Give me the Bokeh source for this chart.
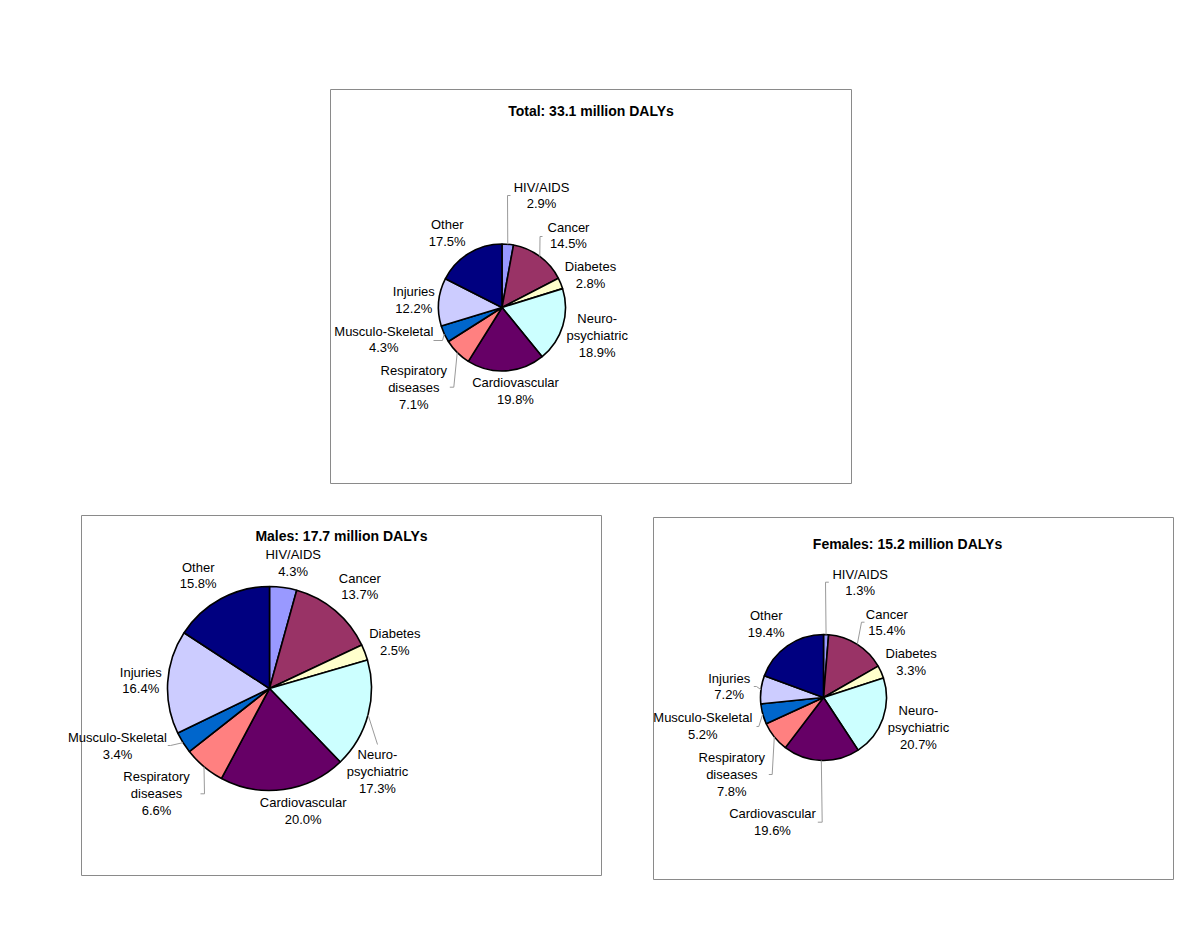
import math
from bokeh.plotting import figure
from bokeh.models import Range1d, ColumnDataSource
from bokeh.core.properties import value
from bokeh.embed import file_html
from bokeh.resources import INLINE

# ---------------- DATA ----------------
categories = ["HIV/AIDS", "Cancer", "Diabetes", "Neuro-\npsychiatric", "Cardiovascular",
              "Respiratory\ndiseases", "Musculo-Skeletal", "Injuries", "Other"]
colors = ["#9999FF", "#993366", "#FFFFCC", "#CCFFFF", "#660066",
          "#FF8080", "#0066CC", "#CCCCFF", "#000080"]
total_values = [2.9, 14.5, 2.8, 18.9, 19.8, 7.1, 4.3, 12.2, 17.5]
males_values = [4.3, 13.7, 2.5, 17.3, 20.0, 6.6, 3.4, 16.4, 15.8]
females_values = [1.3, 15.4, 3.3, 20.7, 19.6, 7.8, 5.2, 7.2, 19.4]
titles = ["Total: 33.1 million DALYs", "Males: 17.7 million DALYs", "Females: 15.2 million DALYs"]

# ---------------- LAYOUT (page pixel coordinates, y downward) ----------------
W, H = 1184, 911
FONT = "Liberation Sans"

panels = [
    dict(values=total_values, title=titles[0], box=(330, 851, 89, 483),
         center=(501.5, 307), r=63.5, title_xy=(590.5, 110),
         label_off=[(39.5, -112), (66.5, -72), (88.5, -32.7), (95.2, 27.7), (13.5, 83.7),
                    (-88.2, 80.3), (-118.2, 32), (-88.2, -7.3), (-54.8, -74.7)],
         leaders={0: [(5.5, -112), (8.5, -112)], 1: [(38, -71), (40.5, -71)],
                  6: [(-59.5, 33), (-68.5, 33)], 5: [(-48.2, 79.7), (-52.2, 79.7)]}),
    dict(values=males_values, title=titles[1], box=(81, 601, 515, 875),
         center=(269, 688), r=102, title_xy=(341, 535),
         label_off=[(23.7, -125.5), (90.3, -102), (125.3, -46.7), (108, 83), (33.7, 122.7),
                    (-113, 104.7), (-152, 57.3), (-128.7, -8), (-71.3, -113)],
         leaders={3: [(108, 56), (108, 56)], 6: [(-99, 57), (-101.7, 57)],
                  5: [(-65, 105.3), (-69, 105.3)]}),
    dict(values=females_values, title=titles[2], box=(653, 1173, 517, 879),
         center=(823, 697), r=63, title_xy=(907, 543),
         label_off=[(36.7, -115), (63.3, -75), (87.7, -35.7), (95, 30), (-51, 124.3),
                    (-91.7, 76.7), (-120.7, 28.7), (-94.3, -11), (-57.3, -73.7)],
         leaders={0: [(2, -115.3), (5.3, -115.3)], 1: [(38, -75.3), (41, -75.3)],
                  4: [(-1.3, 124.7), (-5.7, 124.7)], 5: [(-51.3, 77), (-54.7, 77)],
                  6: [(-64.7, 29), (-67, 29)], 7: [(-67, -11), (-69.7, -11)]}),
]


def Y(page_y):
    return 927 - page_y


p = figure(width=W, height=H, output_backend="svg", toolbar_location=None,
           x_range=Range1d(0, W), y_range=Range1d(927 - H, 927),
           min_border=0, outline_line_color=None)
p.xaxis.visible = False
p.yaxis.visible = False
p.xgrid.visible = False
p.ygrid.visible = False
p.background_fill_color = "white"
p.border_fill_color = "white"

for pn in panels:
    vals = pn["values"]
    tot = sum(vals)
    cx, cy = pn["center"]
    r = pn["r"]
    # panel frame
    l, rt, t, b = pn["box"]
    p.quad(left=[l], right=[rt], top=[Y(t)], bottom=[Y(b)], fill_color=None,
           line_color="#8a8a8a", line_width=1)
    # wedges
    cum = 0.0
    starts, ends, mids = [], [], []
    for v in vals:
        a0 = cum / tot
        cum += v
        a1 = cum / tot
        starts.append(math.pi / 2 - 2 * math.pi * a1)
        ends.append(math.pi / 2 - 2 * math.pi * a0)
        mids.append(2 * math.pi * (a0 + a1) / 2)
    src = ColumnDataSource(dict(x=[cx] * len(vals), y=[Y(cy)] * len(vals),
                                s=starts, e=ends, c=colors))
    p.wedge(x="x", y="y", radius=r, start_angle="s", end_angle="e",
            direction="anticlock", fill_color="c", line_color="black", line_width=1.6,
            source=src)
    # leader lines
    for i, pts in pn["leaders"].items():
        th = mids[i]
        ex = cx + r * math.sin(th)
        ey = cy - r * math.cos(th)
        xs = [ex] + [cx + dx for dx, dy in pts]
        ys = [Y(ey)] + [Y(cy + dy) for dx, dy in pts]
        p.line(xs, ys, line_color="#9a9a9a", line_width=1)
    # labels
    lx = [cx + dx for dx, dy in pn["label_off"]]
    ly = [Y(cy + dy) for dx, dy in pn["label_off"]]
    txt = [f"{c}\n{v:.1f}%" for c, v in zip(categories, vals)]
    p.text(x=lx, y=ly, text=txt, text_align="center", text_baseline="middle",
           text_font=value(FONT), text_font_size="13px", text_color="black",
           text_line_height=1.13)
    # title
    tx, ty = pn["title_xy"]
    p.text(x=[tx], y=[Y(ty)], text=[pn["title"]], text_align="center",
           text_baseline="middle", text_font=value(FONT), text_font_size="14px",
           text_font_style="bold", text_color="black")

open("out.html", "w").write(file_html(p, INLINE))
